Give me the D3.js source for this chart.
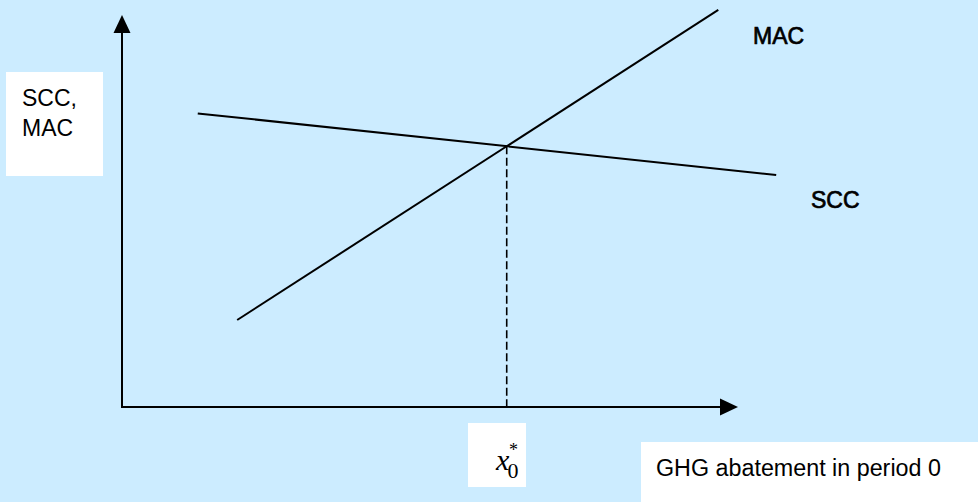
<!DOCTYPE html>
<html>
<head>
<meta charset="utf-8">
<script src="https://cdn.jsdelivr.net/npm/d3@7"></script>
<style>
  html, body { margin: 0; padding: 0; background: #ccecff; }
  svg { display: block; }
  text { font-family: "Liberation Sans", Arial, sans-serif; fill: #000; }
</style>
</head>
<body>
<svg id="chart" width="978" height="502"></svg>
<script>
// abstract units, both axes run 0..100
const xDomain = [0, 100];
const yDomain = [0, 100];

// curves, as [abatement, cost] end points
const sccLine = [[12.3, 74.9], [106.2, 59.2]];
const macLine = [[18.7, 22.2], [96.8, 101.3]];

const curveNames = ['MAC', 'SCC'];
const yLabelLines = ['SCC,', 'MAC'];
const xLabel = 'GHG abatement in period 0';
const optimumLabel = {base: 'x', sub: '0', sup: '*'};

const width = 978;
const height = 502;
const origin = {x: 122, y: 407};
const tip = {x: 738, y: 15};
const arrowLen = 18;
const arrowHalf = 8.5;

const svg = d3.select('#chart');

svg.append('rect')
    .attr('width', width)
    .attr('height', height)
    .attr('fill', '#ccecff');

const x = d3.scaleLinear()
    .domain(xDomain)
    .range([origin.x, tip.x]);

const y = d3.scaleLinear()
    .domain(yDomain)
    .range([origin.y, tip.y]);

// where the two curves cross
function intersect([[x1, y1], [x2, y2]], [[x3, y3], [x4, y4]]) {
  const a1 = (y2 - y1) / (x2 - x1);
  const a2 = (y4 - y3) / (x4 - x3);
  const b1 = y1 - a1 * x1;
  const b2 = y3 - a2 * x3;
  const xi = (b2 - b1) / (a1 - a2);
  return [xi, a1 * xi + b1];
}
const optimum = intersect(sccLine, macLine);

// axes
const axes = svg.append('g').attr('class', 'axes');

axes.append('line')
    .attr('x1', x(0))
    .attr('y1', y(0) + 1)
    .attr('x2', x(0))
    .attr('y2', y(100) + arrowLen)
    .attr('stroke', '#000')
    .attr('stroke-width', 2);

axes.append('path')
    .attr('d', `M${x(0) - arrowHalf},${y(100) + arrowLen}L${x(0) + arrowHalf},${y(100) + arrowLen}L${x(0)},${y(100)}Z`)
    .attr('fill', '#000');

axes.append('line')
    .attr('x1', x(0) - 1)
    .attr('y1', y(0))
    .attr('x2', x(100) - arrowLen)
    .attr('y2', y(0))
    .attr('stroke', '#000')
    .attr('stroke-width', 2);

axes.append('path')
    .attr('d', `M${x(100) - arrowLen},${y(0) - arrowHalf}L${x(100) - arrowLen},${y(0) + arrowHalf}L${x(100)},${y(0)}Z`)
    .attr('fill', '#000');

// curves
const line = d3.line()
    .x(d => x(d[0]))
    .y(d => y(d[1]));

svg.selectAll('.curve')
  .data([macLine, sccLine])
  .join('path')
    .attr('class', 'curve')
    .attr('d', line)
    .attr('fill', 'none')
    .attr('stroke', '#000')
    .attr('stroke-width', 2);

svg.append('line')
    .attr('x1', x(optimum[0]))
    .attr('y1', y(optimum[1]))
    .attr('x2', x(optimum[0]))
    .attr('y2', y(0))
    .attr('stroke', '#000')
    .attr('stroke-width', 1.6)
    .attr('stroke-dasharray', '8,3.5');

// curve names
const namePos = [[753, 44], [811, 208]];
svg.selectAll('.curve-name')
  .data(curveNames)
  .join('text')
    .attr('class', 'curve-name')
    .attr('x', (d, i) => namePos[i][0])
    .attr('y', (d, i) => namePos[i][1])
    .attr('font-size', '23px')
    .attr('stroke', '#000')
    .attr('stroke-width', 0.7)
    .text(d => d);

// y label box
svg.append('rect')
    .attr('x', 6)
    .attr('y', 72)
    .attr('width', 97)
    .attr('height', 104)
    .attr('fill', '#fff');

svg.append('text')
    .attr('font-size', '23px')
  .selectAll('tspan')
  .data(yLabelLines)
  .join('tspan')
    .attr('x', 22)
    .attr('y', (d, i) => 106 + i * 30)
    .text(d => d);

// x label box
svg.append('rect')
    .attr('x', 641)
    .attr('y', 442)
    .attr('width', 337)
    .attr('height', 60)
    .attr('fill', '#fff');

svg.append('text')
    .attr('x', 656)
    .attr('y', 476)
    .attr('font-size', '23.3px')
    .text(xLabel);

// optimum label box
svg.append('rect')
    .attr('x', 468)
    .attr('y', 423)
    .attr('width', 58)
    .attr('height', 64)
    .attr('fill', '#fff');

const opt = svg.append('text')
    .attr('x', 496)
    .attr('y', 470)
    .style('font-family', '"Liberation Serif", "Times New Roman", serif');

opt.append('tspan')
    .attr('font-size', '30px')
    .attr('font-style', 'italic')
    .text(optimumLabel.base);

opt.append('tspan')
    .attr('x', 507.5)
    .attr('y', 478)
    .attr('font-size', '22px')
    .text(optimumLabel.sub);

opt.append('tspan')
    .attr('x', 509)
    .attr('y', 456)
    .attr('font-size', '18px')
    .text(optimumLabel.sup);
</script>
</body>
</html>
